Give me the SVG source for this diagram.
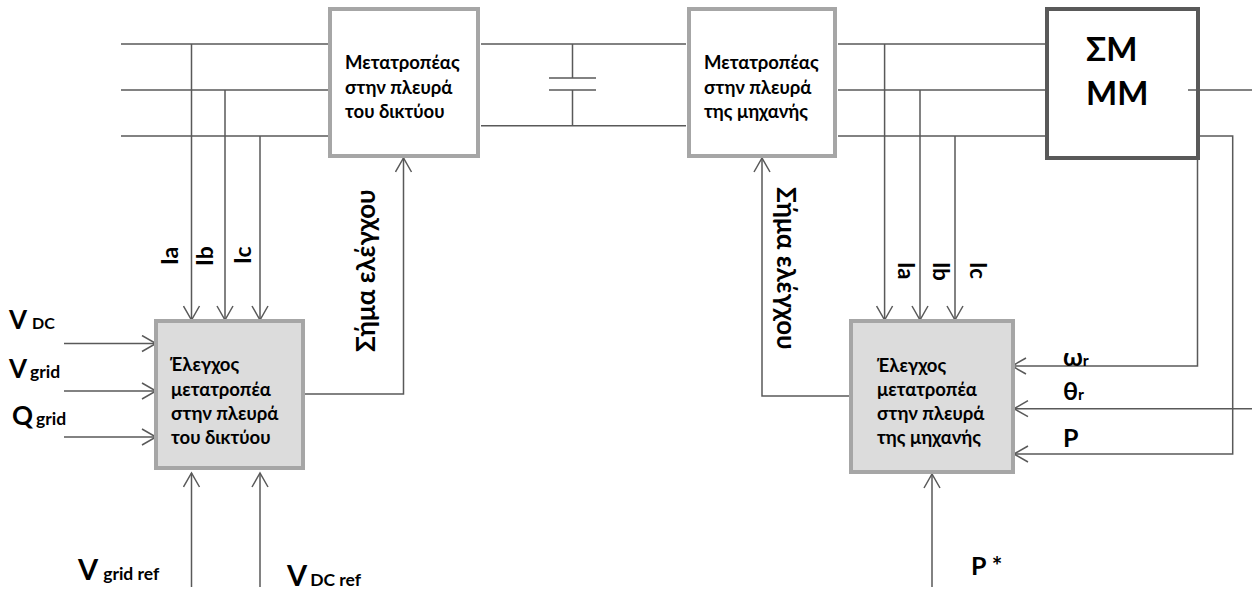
<svg xmlns="http://www.w3.org/2000/svg" width="1252" height="592" viewBox="0 0 1252 592">
<style>
text{font-family:"Lato","Open Sans","Noto Sans",sans-serif;font-weight:700;fill:#000}
.l{fill:none;stroke:#595959;stroke-width:1.5}
.a{marker-end:url(#ah)}
.conv{fill:#fff;stroke:#a6a6a6;stroke-width:4}
.ctl{fill:#dcdcdc;stroke:#a6a6a6;stroke-width:4}
.t{font-size:18.5px}
.v{font-size:26px}
.vb{font-size:29px}
.s{font-size:17.500px}
.d{font-size:16px}
.r{font-size:23px}
.q{font-size:22px}
.g{font-size:26px}
.m{font-size:25px}
.big{font-size:33px}
</style>
<defs>
<marker id="ah" markerUnits="userSpaceOnUse" markerWidth="18" markerHeight="18" refX="16" refY="9" orient="auto">
<path d="M2,1 L16,9 L2,17" fill="none" stroke="#595959" stroke-width="1.5"/>
</marker>
</defs>
<g id="connectors">
<path class="l" d="M121,44H330M121,90H330M121,136H330M481,44H686M481,125.7H686M838,44H1045M838,90H1045M838,136H1045M1188,90H1252"/>
<path class="l" d="M572.5,44V78M572.5,90V125.7M549,78H596M549,90H596"/>
<path class="l a" d="M191.500,44V320"/>
<path class="l a" d="M225,90V320"/>
<path class="l a" d="M260,136V320"/>
<path class="l a" d="M884.600,44V320"/>
<path class="l a" d="M920,90V320"/>
<path class="l a" d="M955,136V320"/>
<path class="l a" d="M64,343.500H156"/>
<path class="l a" d="M64,391H156"/>
<path class="l a" d="M64,437H156"/>
<path class="l a" d="M191.500,587V473"/>
<path class="l a" d="M260,587V473"/>
<path class="l a" d="M304,394H403.500V158"/>
<path class="l a" d="M851,396H762V158"/>
<path class="l a" d="M1197.500,160V366H1012"/>
<path class="l a" d="M1252,408.700H1014"/>
<path class="l a" d="M1197,136H1232.700V454H1014"/>
<path class="l a" d="M932,587V474"/>
</g>
<g id="grid-converter">
<rect class="conv" x="330" y="9" width="148" height="147"/>
<text class="t" x="345" y="69">Μετατροπέας</text>
<text class="t" x="345" y="94">στην πλευρά</text>
<text class="t" x="345" y="118">του δικτύου</text>
</g>
<g id="machine-converter">
<rect class="conv" x="689" y="9" width="146" height="147"/>
<text class="t" x="704" y="69">Μετατροπέας</text>
<text class="t" x="704" y="94">στην πλευρά</text>
<text class="t" x="704" y="118">της μηχανής</text>
</g>
<g id="machine">
<rect fill="none" stroke="#595959" stroke-width="4" x="1047" y="9" width="151" height="149"/>
<text class="big" x="1086" y="61">ΣΜ</text>
<text class="big" x="1086" y="105">ΜΜ</text>
</g>
<g id="grid-control">
<rect class="ctl" x="156" y="321" width="147" height="147"/>
<text class="t" x="170" y="371">Έλεγχος</text>
<text class="t" x="171" y="396">μετατροπέα</text>
<text class="t" x="171" y="420">στην πλευρά</text>
<text class="t" x="171" y="444">του δικτύου</text>
</g>
<g id="machine-control">
<rect class="ctl" x="851" y="321" width="162" height="151"/>
<text class="t" x="877" y="372">Έλεγχος</text>
<text class="t" x="877" y="396">μετατροπέα</text>
<text class="t" x="877" y="420">στην πλευρά</text>
<text class="t" x="877" y="444">της μηχανής</text>
</g>
<g id="labels">
<text x="9" y="329"><tspan class="v">V</tspan><tspan class="d" dx="5">DC</tspan></text>
<text x="9" y="378"><tspan class="v">V</tspan><tspan class="s" dx="3">grid</tspan></text>
<text x="12" y="425"><tspan class="v">Q</tspan><tspan class="s" dx="3">grid</tspan></text>
<text x="78" y="580"><tspan class="vb">V</tspan><tspan class="s" dx="5">grid ref</tspan></text>
<text x="287" y="586"><tspan class="vb">V</tspan><tspan class="s" dx="3">DC ref</tspan></text>
<text class="m" x="971" y="575">P *</text>
<text x="1063" y="366"><tspan class="m">ω</tspan><tspan class="d">r</tspan></text>
<text x="1063" y="400"><tspan class="m">θ</tspan><tspan class="d">r</tspan></text>
<text class="m" x="1063" y="447">P</text>
<text class="r" transform="translate(178,265) rotate(-90)">Ia</text>
<text class="r" transform="translate(212.700,266) rotate(-90)">Ib</text>
<text class="r" transform="translate(250.700,264) rotate(-90)">Ic</text>
<text class="g" transform="translate(375,352) rotate(-90)">Σήμα ελέγχου</text>
<text class="q" transform="translate(898,262) rotate(90)">Ia</text>
<text class="q" transform="translate(933,262) rotate(90)">Ib</text>
<text class="q" transform="translate(970,262) rotate(90)">Ic</text>
<text class="g" transform="translate(777,187) rotate(90)">Σήμα ελέγχου</text>
</g>
</svg>
